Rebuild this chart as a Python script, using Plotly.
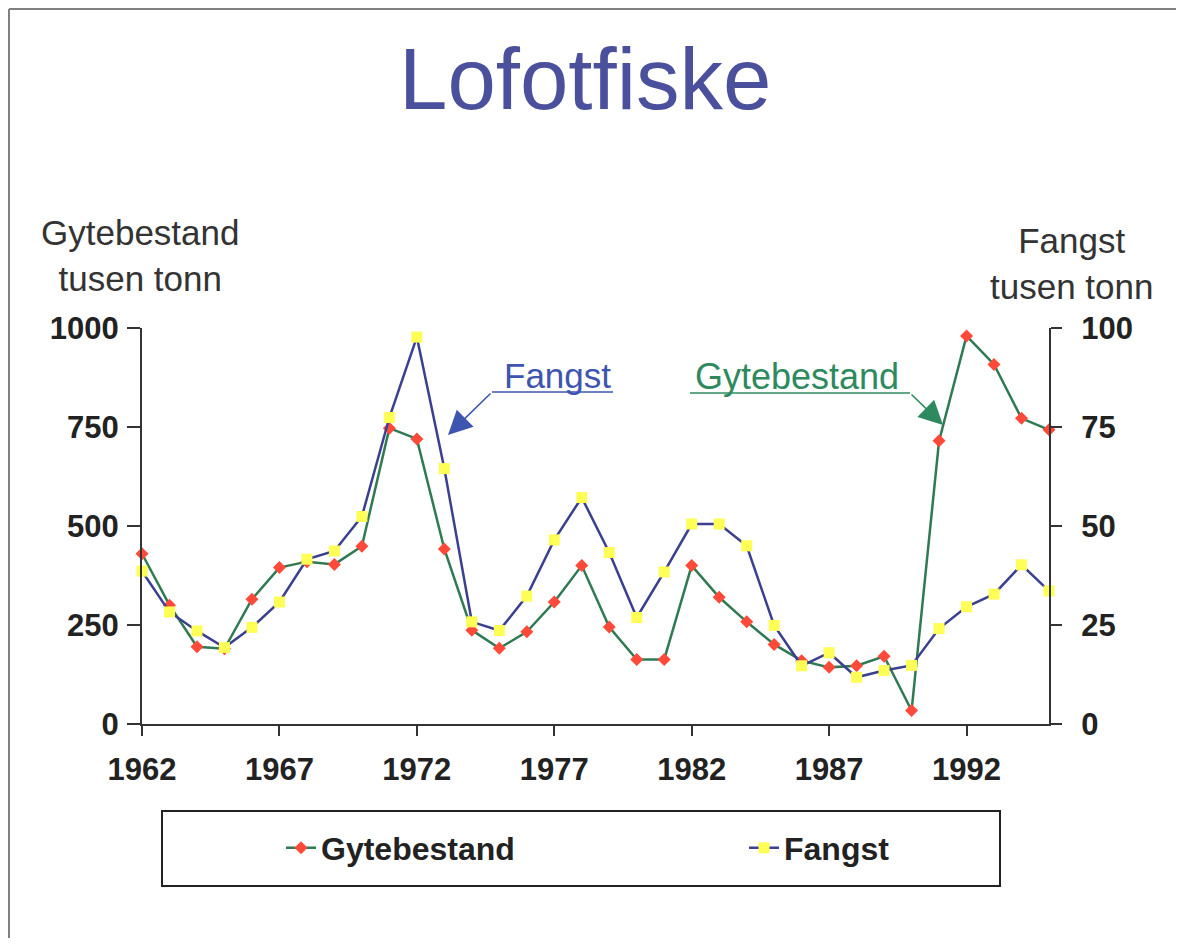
import plotly.graph_objects as go

# ---- data ----
years = list(range(1962, 1996))
gytebestand = [430, 300, 195, 190, 315, 395, 410, 403, 449, 747, 720, 442, 237, 191,
               233, 308, 400, 245, 163, 163, 400, 320, 258, 201, 160, 143, 147, 171,
               34, 715, 980, 908, 772, 743]
fangst = [38.6, 28.3, 23.5, 19.3, 24.4, 30.8, 41.6, 43.7, 52.4, 77.4, 97.7, 64.5, 25.8,
          23.6, 32.3, 46.5, 57.2, 43.3, 26.9, 38.4, 50.5, 50.5, 45.0, 24.9, 14.7, 18.0,
          11.8, 13.5, 14.8, 24.1, 29.6, 32.8, 40.2, 33.6]
x_ticks = [1962, 1967, 1972, 1977, 1982, 1987, 1992]
left_ticks = [0, 250, 500, 750, 1000]
right_ticks = [0, 25, 50, 75, 100]

# ---- layout geometry (page has an 8px body margin) ----
OFF = 8
W, H = 1184 - OFF, 946 - 2 * OFF
L, T = 142 - OFF, 328 - OFF
PW, PH = 907, 396
R = W - L - PW
B = H - T - PH


def px(x):
    """page pixel x -> paper coordinate"""
    return (x - OFF - L) / PW


def py(y):
    """page pixel y -> paper coordinate"""
    return (T + PH - (y - OFF)) / PH


FONT = "Liberation Sans, Arial, sans-serif"
AX = "#333333"
TICKFONT = dict(family=FONT, size=31, color="#222222", weight="bold")
BLUE_TXT = "#3e55b0"
GREEN_TXT = "#2e8a5e"
LEGFONT = dict(family=FONT, size=32, color="#222222", weight="bold")
FRAME = dict(color="#808080", width=2)

fig = go.Figure()
fig.add_trace(go.Scatter(
    x=years, y=gytebestand, name="Gytebestand", mode="lines+markers",
    line=dict(color="#2f7a52", width=2.5),
    marker=dict(symbol="diamond", size=10, color="#ff4a3a"),
    cliponaxis=False, legend="legend"))
fig.add_trace(go.Scatter(
    x=years, y=fangst, name="Fangst", mode="lines+markers", yaxis="y2",
    line=dict(color="#3b3f8f", width=2.5),
    marker=dict(symbol="square", size=11, color="#ffff55"),
    cliponaxis=False, legend="legend2"))

fig.update_layout(
    width=W, height=H,
    margin=dict(l=L, r=R, t=T, b=B),
    paper_bgcolor="white", plot_bgcolor="white",
    font=dict(family=FONT, color=AX),
    xaxis=dict(range=[1962, 1995], tickvals=x_ticks, ticks="outside", ticklen=10,
               tickwidth=2, tickcolor=AX, showline=True, linecolor=AX, linewidth=2,
               showgrid=False, zeroline=False, tickfont=TICKFONT,
               ticklabelstandoff=7),
    yaxis=dict(range=[0, 1000], tickvals=left_ticks, ticks="outside", ticklen=13,
               tickwidth=2, tickcolor=AX, showline=True, linecolor=AX, linewidth=2,
               showgrid=False, zeroline=False, tickfont=TICKFONT,
               ticklabelstandoff=2),
    yaxis2=dict(range=[0, 100], tickvals=right_ticks, overlaying="y", side="right",
                anchor="x", ticks="outside", ticklen=11, tickwidth=2, tickcolor=AX,
                showline=True, linecolor=AX, linewidth=2, showgrid=False,
                zeroline=False, tickfont=TICKFONT, ticklabelstandoff=13),
    yaxis3=dict(range=[0, 100], tickvals=right_ticks, overlaying="y", side="right",
                anchor="x", ticks="inside", ticklen=10, tickwidth=2, tickcolor=AX,
                showline=False, showgrid=False, zeroline=False, showticklabels=False),
    showlegend=True,
    legend=dict(orientation="h", x=px(281), xanchor="left", y=py(848),
                yanchor="middle", bgcolor="rgba(0,0,0,0)", borderwidth=0,
                font=LEGFONT),
    legend2=dict(orientation="h", x=px(744), xanchor="left", y=py(848),
                 yanchor="middle", bgcolor="rgba(0,0,0,0)", borderwidth=0,
                 font=LEGFONT),
)

shapes = [
    # slide frame (left, top, right edges)
    dict(type="line", xref="paper", yref="paper", x0=px(9), x1=px(9),
         y0=py(946), y1=py(9), line=FRAME),
    dict(type="line", xref="paper", yref="paper", x0=px(9), x1=px(1177),
         y0=py(9), y1=py(9), line=FRAME),
    dict(type="line", xref="paper", yref="paper", x0=px(1177), x1=px(1177),
         y0=py(9), y1=py(946), line=FRAME),
    # legend box
    dict(type="rect", xref="paper", yref="paper", x0=px(162), x1=px(1000),
         y0=py(886), y1=py(811), line=dict(color="#222222", width=2)),
    # underlines of the callouts
    dict(type="line", xref="paper", yref="paper", x0=px(492), x1=px(613),
         y0=py(392), y1=py(392), line=dict(color=BLUE_TXT, width=1.5)),
    dict(type="line", xref="paper", yref="paper", x0=px(690), x1=px(910),
         y0=py(393), y1=py(393), line=dict(color=GREEN_TXT, width=1.5)),
]
fig.update_layout(shapes=shapes)

annotations = [
    dict(text="Lofotfiske", x=px(585), y=py(78), xref="paper", yref="paper",
         showarrow=False, xanchor="center", yanchor="middle",
         font=dict(family=FONT, size=87, color="#4b509d")),
    dict(text="Gytebestand<br>tusen tonn", x=px(140), y=py(256), xref="paper",
         yref="paper", showarrow=False, xanchor="center", yanchor="middle",
         font=dict(family=FONT, size=35, color=AX)),
    dict(text="Fangst<br>tusen tonn", x=px(1071), y=py(263), xref="paper",
         yref="paper", showarrow=False, xanchor="center", yanchor="middle",
         font=dict(family=FONT, size=35, color=AX)),
    dict(text="Fangst", x=px(557), y=py(375), xref="paper", yref="paper",
         showarrow=False, xanchor="center", yanchor="middle",
         font=dict(family=FONT, size=35, color=BLUE_TXT)),
    dict(text="Gytebestand", x=px(797), y=py(376), xref="paper", yref="paper",
         showarrow=False, xanchor="center", yanchor="middle",
         font=dict(family=FONT, size=36, color=GREEN_TXT)),
    # callout arrows
    dict(text="", x=px(448), y=py(435), xref="paper", yref="paper", showarrow=True,
         ax=44, ay=-43, arrowhead=2, arrowsize=3, arrowwidth=1.6,
         arrowcolor=BLUE_TXT, standoff=0),
    dict(text="", x=px(943), y=py(425), xref="paper", yref="paper", showarrow=True,
         ax=-33, ay=-32, arrowhead=2, arrowsize=3, arrowwidth=1.6,
         arrowcolor=GREEN_TXT, standoff=0),
]
fig.update_layout(annotations=annotations)

fig.write_html("out.html")
